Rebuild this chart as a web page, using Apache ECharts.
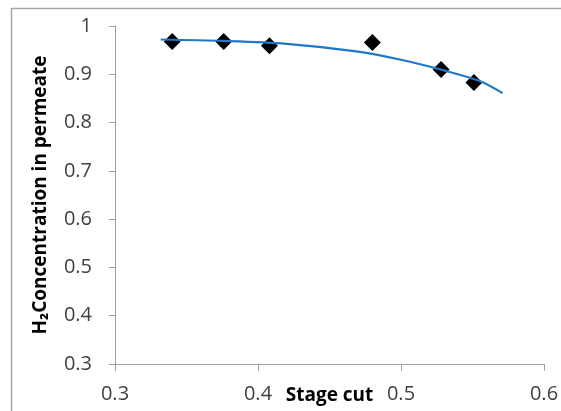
<!DOCTYPE html>
<html>
<head>
<meta charset="utf-8">
<script src="https://cdn.jsdelivr.net/npm/echarts@6/dist/echarts.min.js"></script>
<style>html,body{margin:0;padding:0;background:#fff;}#c{width:561px;height:411px;}</style>
</head>
<body>
<div id="c"></div>
<script>
var measuredX = [0.340, 0.376, 0.408, 0.480, 0.528, 0.551];
var measuredY = [0.968, 0.968, 0.959, 0.966, 0.910, 0.883];
var modelX = [0.332, 0.376, 0.420, 0.470, 0.500, 0.530, 0.555, 0.571];
var modelY = [0.972, 0.969, 0.963, 0.947, 0.930, 0.908, 0.886, 0.861];
var xTicks = [0.3, 0.4, 0.5, 0.6];
var yTicks = [0.3, 0.4, 0.5, 0.6, 0.7, 0.8, 0.9, 1];

var chart = echarts.init(document.getElementById('c'), null, {renderer: 'canvas'});
var font = '"Open Sans", "DejaVu Sans", sans-serif';
chart.setOption({
  animation: false,
  backgroundColor: '#fff',
  graphic: [{
    type: 'rect', shape: {x: 11.5, y: 8.5, width: 700, height: 600},
    style: {fill: 'none', stroke: '#a6a6a6', lineWidth: 1.5}, z: -1
  }],
  grid: {left: 115, right: 17, top: 26, bottom: 47, containLabel: false, outerBoundsMode: 'none'},
  xAxis: {
    type: 'value', min: 0.3, max: 0.6, interval: 0.1,
    name: 'Stage cut', nameLocation: 'middle', nameGap: 22, nameMoveOverlap: false,
    nameTextStyle: {fontFamily: font, fontWeight: 'bold', fontSize: 19, color: '#000'},
    axisLine: {show: true, lineStyle: {color: '#a0a0a0', width: 1}},
    axisTick: {show: true, inside: false, length: 7, lineStyle: {color: '#a0a0a0'}},
    axisLabel: {margin: 20, fontFamily: font, fontSize: 20, color: '#404040',
      formatter: function (v) { var r = Math.round(v*10)/10; return xTicks.indexOf(r) >= 0 ? String(r) : ''; }},
    splitLine: {show: false}
  },
  yAxis: {
    type: 'value', min: 0.3, max: 1, interval: 0.1,
    name: 'H\u2082Concentration in permeate', nameLocation: 'middle', nameGap: 65, nameRotate: 90, nameMoveOverlap: false,
    nameTextStyle: {fontFamily: font, fontWeight: 'bold', fontSize: 19, color: '#000'},
    axisLine: {show: true, lineStyle: {color: '#a0a0a0', width: 1}},
    axisTick: {show: true, inside: false, length: 6, lineStyle: {color: '#a0a0a0'}},
    axisLabel: {margin: 23, fontFamily: font, fontSize: 20, color: '#404040',
      formatter: function (v) { var r = Math.round(v*10)/10; return yTicks.indexOf(r) >= 0 ? String(r) : ''; }},
    splitLine: {show: false}
  },
  series: [{
    type: 'line',
    data: modelX.map(function (x, i) { return [x, modelY[i]]; }),
    smooth: 0.3, showSymbol: false,
    lineStyle: {color: '#1f78c8', width: 2.2}
  }, {
    type: 'scatter',
    data: measuredX.map(function (x, i) { return [x, measuredY[i]]; }),
    symbol: 'diamond', symbolSize: [17, 17],
    itemStyle: {color: '#000', opacity: 1}
  }]
});
</script>
</body>
</html>
